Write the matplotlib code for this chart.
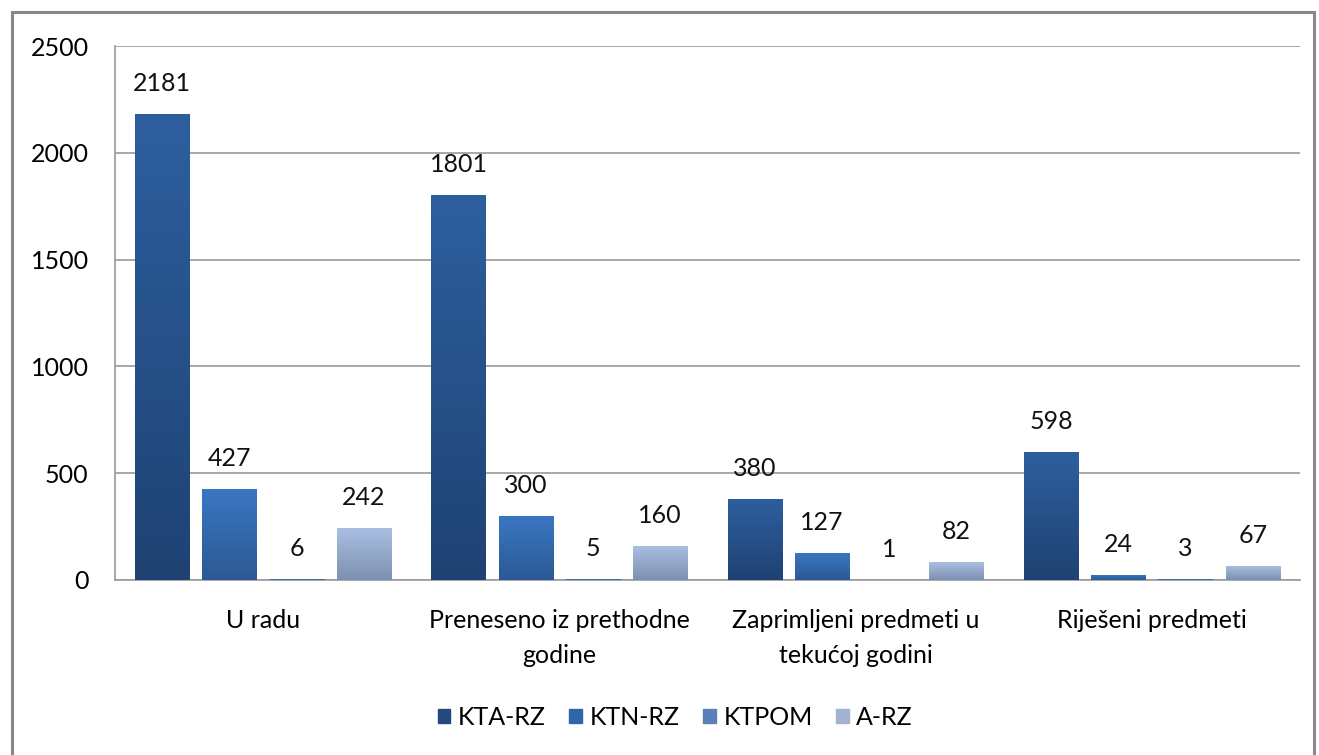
import matplotlib
matplotlib.use('Agg')
import numpy as np
import matplotlib.pyplot as plt
from matplotlib.patches import Rectangle
from matplotlib.colors import LinearSegmentedColormap

plt.rcParams['font.family'] = ['Lato', 'DejaVu Sans']

# data
categories = ['U radu', 'Preneseno iz prethodne\ngodine',
              'Zaprimljeni predmeti u\ntekućoj godini', 'Riješeni predmeti']
series = ['KTA-RZ', 'KTN-RZ', 'KTPOM', 'A-RZ']
kta_rz = [2181, 1801, 380, 598]
ktn_rz = [427, 300, 127, 24]
ktpom = [6, 5, 1, 3]
a_rz = [242, 160, 82, 67]
values = [kta_rz, ktn_rz, ktpom, a_rz]

# gradient colours (top, bottom) per series
grad = [('#2d5f9f', '#1f4272'),
        ('#3a77c2', '#2c5995'),
        ('#5a86c8', '#3f659e'),
        ('#aabfe2', '#7d90b1')]
legend_col = ['#23497f', '#2f65ab', '#5b7fb9', '#a1b2d3']

FS = 18

fig = plt.figure(figsize=(13.19, 7.55), dpi=100)
ax = fig.add_axes([0.0872, 0.2318, 0.8984, 0.7072])

# outer frame
fig.patches.append(Rectangle((12/1319, -0.01), 1302/1319, 1 - 12/755 + 0.01,
                             transform=fig.transFigure, fill=False,
                             edgecolor='#888888', linewidth=2.2))

x = np.arange(len(categories))
step = 0.227
w = 0.183
grad_img = np.linspace(1, 0, 256).reshape(-1, 1)

for i, (name, vals) in enumerate(zip(series, values)):
    cmap = LinearSegmentedColormap.from_list(name, [grad[i][1], grad[i][0]])
    pos = x + (i - 1.5) * step
    bars = ax.bar(pos, vals, w, color=legend_col[i], label=name, zorder=3)
    for b, p, v in zip(bars, pos, vals):
        b.set_facecolor('none')
        b.set_edgecolor('none')
        bx = b.get_x()
        im = ax.imshow(grad_img, cmap=cmap, aspect='auto',
                       extent=[bx, bx + w, 0, max(v, 10)], zorder=3,
                       vmin=0, vmax=1)
        im.set_clip_path(b)
        ax.annotate(str(v), (p, v), xytext=(0, 22),
                    textcoords='offset points', ha='center', va='center',
                    fontsize=FS, color='#111111')

ax.set_xlim(-0.5, 3.5)
ax.set_ylim(0, 2500)
ax.set_yticks(range(0, 2501, 500))
ax.set_xticks(x)
ax.set_xticklabels(categories, fontsize=FS, linespacing=1.6)
ax.tick_params(axis='y', labelsize=FS, length=0, pad=19)
ax.tick_params(axis='x', length=0, pad=21)
ax.grid(axis='y', color='#9a9a9a', linewidth=1.2, zorder=0)
ax.set_axisbelow(True)
for s in ['top', 'right']:
    ax.spines[s].set_visible(False)
ax.spines['left'].set_color('#9a9a9a')
ax.spines['bottom'].set_color('#9a9a9a')
ax.spines['left'].set_linewidth(1.2)
ax.spines['bottom'].set_linewidth(1.2)

handles = [Rectangle((0, 0), 1, 1, color=c) for c in legend_col]
fig.legend(handles, series, loc='center', bbox_to_anchor=(0.512, 0.05), ncol=4,
           frameon=False, fontsize=FS, handlelength=0.5, handleheight=0.5,
           handletextpad=0.3, columnspacing=0.95)

fig.savefig('out.png', dpi=100)
